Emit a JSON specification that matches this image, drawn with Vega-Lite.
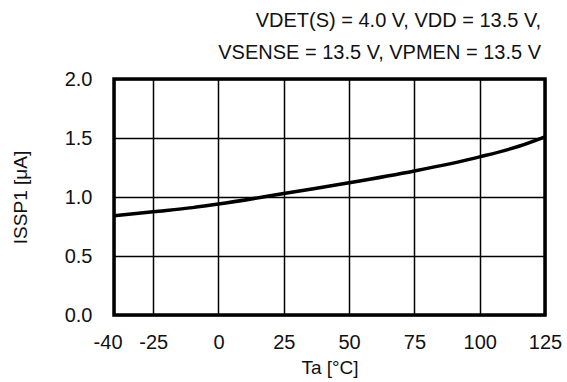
{
  "$schema": "https://vega.github.io/schema/vega-lite/v6.json",
  "autosize": "none",
  "width": 431,
  "height": 236,
  "padding": {"left": 114, "top": 79, "right": 22, "bottom": 67},
  "background": "white",
  "config": {
    "font": "Liberation Sans",
    "view": {"stroke": "black", "strokeWidth": 3.5},
    "axis": {
      "labelFont": "Liberation Sans",
      "titleFont": "Liberation Sans",
      "labelFontSize": 20,
      "titleFontSize": 19,
      "labelColor": "#111",
      "titleColor": "#111",
      "titleFontWeight": "normal",
      "domain": false,
      "ticks": false,
      "labelOverlap": false,
      "gridColor": "black",
      "gridWidth": 1.5,
      "gridOpacity": 1
    }
  },
  "title": {
    "text": ["VDET(S) = 4.0 V, VDD = 13.5 V,", "VSENSE = 13.5 V, VPMEN = 13.5 V"],
    "anchor": "end",
    "frame": "group",
    "fontSize": 20,
    "fontWeight": "normal",
    "font": "Liberation Sans",
    "color": "#111",
    "lineHeight": 32,
    "offset": 6,
    "dx": -4
  },
  "data": {
    "values": [
      {"t": -40, "i": 0.84},
      {"t": -25, "i": 0.875},
      {"t": -10, "i": 0.91},
      {"t": 0, "i": 0.94},
      {"t": 17, "i": 1.0},
      {"t": 25, "i": 1.03},
      {"t": 50, "i": 1.12},
      {"t": 75, "i": 1.22},
      {"t": 100, "i": 1.34},
      {"t": 115, "i": 1.43},
      {"t": 125, "i": 1.51}
    ]
  },
  "mark": {"type": "line", "color": "black", "strokeWidth": 3.5, "interpolate": "monotone", "clip": true},
  "encoding": {
    "x": {
      "field": "t",
      "type": "quantitative",
      "scale": {"domain": [-40, 125], "nice": false, "zero": false},
      "axis": {
        "values": [-40, -25, 0, 25, 50, 75, 100, 125],
        "labelExpr": "'' + datum.value",
        "labelAlign": {"expr": "datum.value == -40 ? 'right' : 'center'"},
        "labelOffset": {"expr": "datum.value == -40 ? 8 : 0"},
        "title": "Ta [°C]",
        "labelPadding": 17,
        "titlePadding": 6
      }
    },
    "y": {
      "field": "i",
      "type": "quantitative",
      "scale": {"domain": [0, 2], "nice": false},
      "axis": {"values": [0, 0.5, 1, 1.5, 2], "format": ".1f", "title": "ISSP1 [μA]", "labelPadding": 22, "titlePadding": 34}
    }
  }
}
